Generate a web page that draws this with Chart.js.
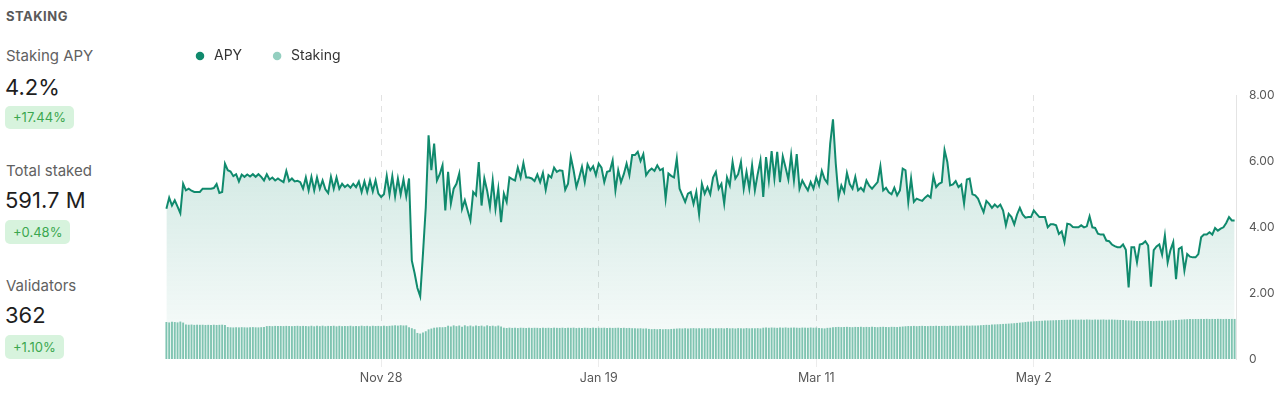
<!DOCTYPE html>
<html>
<head>
<meta charset="utf-8">
<script src="https://cdn.jsdelivr.net/npm/chart.js@4.4.1/dist/chart.umd.min.js"></script>
<style>
  body { margin: 0; background: #fff; font-family: Inter, "Noto Sans", sans-serif; }
  .page { position: relative; width: 1280px; height: 397px; overflow: hidden; }
  .title { position: absolute; left: 6px; top: 8px; font-size: 13px; line-height: 16px; font-weight: 700; color: #5a5a5a; letter-spacing: 0.5px; }
  .label { position: absolute; left: 6px; font-size: 15px; line-height: 20px; color: #616161; }
  .value { position: absolute; left: 5px; font-size: 22px; line-height: 28px; color: #1e1e1e; }
  .badge { position: absolute; left: 5px; height: 24px; line-height: 24px; padding: 0 8px; border-radius: 5px;
           background: #d7f3dd; color: #3ba74f; font-size: 13px; }
  .chart-box { position: absolute; left: 150px; top: 0; width: 1130px; height: 397px; }
</style>
</head>
<body>
<div class="page">
  <div class="title">STAKING</div>

  <div class="label" style="top:46px">Staking APY</div>
  <div class="value" style="top:73px">4.2%</div>
  <div class="badge" style="top:106px;height:23px;line-height:23px">+17.44%</div>

  <div class="label" style="top:161px">Total staked</div>
  <div class="value" style="top:186px">591.7 M</div>
  <div class="badge" style="top:220px">+0.48%</div>

  <div class="label" style="top:276px">Validators</div>
  <div class="value" style="top:301px">362</div>
  <div class="badge" style="top:335px">+1.10%</div>

  <div class="chart-box"><canvas id="stakingChart"></canvas></div>
</div>

<script>
// APY (%), one point every 16 hours
const apy = [
  4.55, 4.89, 4.65, 4.81, 4.62, 4.42, 5.31, 5.11, 5.16, 5.10, 5.06, 5.06, 5.06, 5.16, 5.16, 5.16,
  5.16, 5.18, 5.30, 5.03, 5.06, 5.92, 5.72, 5.68, 5.54, 5.60, 5.38, 5.59, 5.52, 5.59, 5.53, 5.60,
  5.52, 5.60, 5.52, 5.41, 5.60, 5.44, 5.50, 5.41, 5.47, 5.41, 5.36, 5.70, 5.39, 5.47, 5.38, 5.40,
  5.36, 5.16, 5.50, 5.11, 5.52, 5.11, 5.50, 5.16, 5.41, 5.14, 5.03, 5.52, 5.16, 5.50, 5.16, 5.31,
  5.21, 5.28, 5.19, 5.31, 5.21, 5.38, 5.06, 5.38, 5.06, 5.41, 5.08, 5.41, 5.01, 4.91, 4.99, 5.55,
  4.99, 5.54, 4.93, 5.47, 4.99, 5.44, 4.93, 5.47, 2.98, 2.60, 2.15, 1.90, 3.20, 4.60, 6.78, 5.72,
  6.53, 5.41, 5.60, 5.87, 4.50, 5.67, 4.71, 5.16, 5.31, 5.62, 4.55, 4.81, 4.50, 4.20, 5.06, 4.96,
  5.97, 4.65, 5.47, 5.10, 4.60, 5.41, 4.55, 5.16, 4.15, 5.01, 4.76, 5.50, 5.45, 5.41, 5.80, 5.50,
  5.94, 5.50, 5.50, 5.47, 5.39, 5.59, 5.36, 5.64, 5.13, 5.57, 5.50, 5.80, 5.67, 5.72, 5.70, 5.13,
  5.31, 6.12, 5.72, 5.21, 5.50, 5.82, 5.36, 5.90, 5.72, 5.84, 5.57, 5.92, 5.80, 5.36, 5.67, 5.70,
  6.02, 5.11, 5.72, 5.36, 5.60, 5.92, 5.57, 6.18, 6.18, 6.28, 6.00, 6.21, 5.57, 5.70, 5.77, 5.70,
  5.87, 5.72, 5.77, 4.86, 5.62, 5.55, 5.50, 6.07, 5.16, 4.96, 4.76, 5.01, 5.06, 4.70, 5.06, 4.38,
  5.31, 5.01, 5.21, 4.99, 5.50, 5.67, 5.16, 5.31, 4.71, 5.50, 5.26, 5.97, 5.47, 5.60, 5.97, 5.16,
  5.67, 5.16, 5.87, 5.11, 5.60, 6.02, 4.91, 6.12, 5.41, 6.30, 5.47, 6.28, 5.36, 6.14, 5.80, 5.44,
  6.18, 5.41, 6.21, 5.16, 5.41, 5.25, 5.11, 5.36, 5.16, 5.50, 5.26, 5.70, 5.45, 5.33, 6.53, 7.26,
  5.92, 4.91, 5.26, 5.06, 5.64, 5.30, 5.16, 5.52, 5.11, 5.19, 5.09, 5.41, 5.25, 5.16, 5.26, 5.36,
  5.84, 5.11, 5.19, 5.05, 4.99, 5.19, 4.96, 5.11, 5.77, 5.72, 4.76, 5.47, 4.76, 4.86, 4.82, 4.79,
  4.89, 4.96, 4.89, 5.54, 5.21, 5.31, 5.35, 6.33, 5.97, 5.26, 5.29, 5.39, 5.21, 5.29, 4.71, 5.44,
  5.47, 4.99, 4.96, 4.86, 4.65, 4.45, 4.79, 4.70, 4.58, 4.68, 4.60, 4.68, 4.50, 4.05, 4.40, 4.30,
  4.08, 4.38, 4.58, 4.38, 4.28, 4.30, 4.30, 4.50, 4.40, 4.30, 4.30, 4.30, 3.99, 4.08, 4.08, 4.05,
  3.79, 3.87, 3.54, 4.10, 4.08, 4.00, 3.99, 3.99, 4.05, 3.99, 4.02, 4.32, 3.99, 3.97, 3.80, 3.77,
  3.77, 3.59, 3.57, 3.47, 3.42, 3.39, 3.39, 3.47, 3.31, 2.17, 3.39, 3.39, 2.93, 3.47, 3.49, 3.57,
  3.44, 2.19, 3.30, 3.41, 3.47, 3.16, 3.74, 2.93, 3.30, 3.54, 2.42, 3.34, 3.39, 2.68, 3.18, 3.10,
  3.08, 3.08, 3.18, 3.69, 3.77, 3.77, 3.84, 3.77, 3.97, 3.89, 3.95, 3.99, 4.12, 4.30, 4.20, 4.20
];

// total staked (M)
const staked = [
  547, 540, 549, 546, 541, 553, 538, 510, 506, 509, 504, 507, 505, 506, 503, 505,
  504, 506, 503, 505, 507, 502, 472, 468, 466, 469, 467, 470, 468, 466, 469, 471,
  468, 467, 470, 472, 486, 488, 485, 489, 487, 488, 486, 489, 487, 485, 488, 490,
  486, 489, 487, 484, 491, 483, 490, 485, 492, 484, 489, 486, 491, 483, 490, 485,
  488, 486, 491, 484, 489, 485, 492, 486, 490, 484, 491, 487, 489, 485, 492, 486,
  490, 494, 498, 493, 499, 495, 497, 470, 455, 440, 385, 376, 392, 410, 438, 450,
  462, 466, 470, 469, 472, 492, 480, 497, 485, 495, 478, 498, 484, 494, 482, 496,
  487, 493, 481, 497, 486, 492, 483, 494, 480, 462, 458, 463, 459, 461, 457, 462,
  460, 458, 463, 459, 461, 460, 457, 462, 459, 461, 458, 463, 460, 459, 462, 458,
  461, 460, 463, 457, 461, 459, 462, 460, 458, 463, 459, 461, 460, 462, 458, 461,
  459, 460, 462, 458, 461, 457, 459, 455, 456, 452, 454, 450, 452, 445, 441, 444,
  440, 443, 439, 442, 440, 444, 447, 450, 453, 451, 455, 452, 454, 456, 453, 455,
  452, 456, 453, 457, 451, 455, 454, 456, 452, 457, 453, 455, 451, 456, 454, 452,
  457, 453, 455, 454, 456, 452, 462, 464, 461, 465, 463, 460, 464, 462, 466, 461,
  463, 465, 462, 460, 464, 463, 461, 465, 462, 464, 458, 455, 452, 460, 462, 468,
  472, 474, 471, 473, 475, 472, 470, 474, 473, 476, 471, 474, 472, 475, 473, 470,
  474, 476, 473, 471, 475, 474, 472, 476, 480, 484, 487, 486, 489, 485, 488, 490,
  487, 486, 489, 488, 491, 487, 489, 490, 488, 492, 489, 491, 490, 493, 491, 494,
  492, 495, 494, 496, 499, 502, 505, 504, 508, 511, 513, 515, 518, 520, 523, 526,
  529, 533, 537, 541, 546, 551, 555, 558, 560, 563, 565, 567, 569, 571, 572, 574,
  575, 577, 578, 579, 580, 581, 582, 580, 583, 581, 584, 582, 580, 583, 581, 582,
  584, 580, 582, 583, 581, 579, 577, 575, 572, 570, 568, 565, 563, 562, 564, 561,
  563, 562, 560, 563, 565, 564, 566, 568, 570, 573, 576, 579, 583, 586, 588, 590,
  589, 591, 590, 592, 591, 593, 590, 592, 591, 593, 592, 590, 592, 591, 592, 592
];

const tickLabels = ['Nov 28', 'Jan 19', 'Mar 11', 'May 2'];
const yTicks = [0, 2, 4, 6, 8];

// date labels: first point Oct 7 2023 16:00 UTC, 16h apart
const months = ['Jan', 'Feb', 'Mar', 'Apr', 'May', 'Jun', 'Jul', 'Aug', 'Sep', 'Oct', 'Nov', 'Dec'];
const startTime = Date.UTC(2023, 9, 7, 16);
const labels = apy.map((_, i) => {
  const d = new Date(startTime + i * 16 * 3600 * 1000);
  return months[d.getUTCMonth()] + ' ' + d.getUTCDate();
});

const green = '#108a6d';
const lightGreen = '#94cfc0';
const tickColor = '#585858';

Chart.defaults.font.family = 'Inter, "Noto Sans", sans-serif';

// push the plot down below the legend
const legendGap = {
  id: 'legendGap',
  beforeInit(chart) {
    const fit = chart.legend.fit;
    chart.legend.fit = function () {
      fit.call(this);
      this.height += 22;
    };
  }
};

const ctx = document.getElementById('stakingChart').getContext('2d');
new Chart(ctx, {
  type: 'bar',
  data: {
    labels: labels,
    datasets: [
      {
        type: 'line',
        label: 'APY',
        data: apy,
        yAxisID: 'y',
        order: 0,
        borderColor: green,
        borderWidth: 2,
        pointRadius: 0,
        tension: 0,
        fill: 'origin',
        backgroundColor: (c) => {
          const area = c.chart.chartArea;
          if (!area) return 'rgba(16,138,109,0.15)';
          const g = c.chart.ctx.createLinearGradient(0, area.top, 0, area.bottom);
          g.addColorStop(0, 'rgba(16,138,109,0.24)');
          g.addColorStop(1, 'rgba(16,138,109,0.02)');
          return g;
        },
      },
      {
        label: 'Staking',
        data: staked,
        yAxisID: 'y2',
        order: 1,
        backgroundColor: '#7fc4b1',
        barPercentage: 0.68,
        categoryPercentage: 1,
      },
    ],
  },
  options: {
    responsive: true,
    maintainAspectRatio: false,
    animation: false,
    layout: { padding: { left: 15, top: 21, right: 5, bottom: 7 } },
    plugins: {
      filler: { drawTime: 'beforeDatasetsDraw' },
      tooltip: { enabled: false },
      legend: {
        position: 'top',
        align: 'start',
        labels: {
          usePointStyle: true,
          boxWidth: 14,
          boxHeight: 6,
          padding: 28,
          color: '#333',
          font: { size: 14 },
          generateLabels(chart) {
            const items = Chart.defaults.plugins.legend.labels.generateLabels(chart);
            items.forEach((it) => {
              const c = it.datasetIndex === 0 ? green : lightGreen;
              it.fillStyle = c;
              it.strokeStyle = c;
              it.lineWidth = 0;
              it.pointStyle = 'circle';
            });
            return items;
          },
        },
      },
    },
    scales: {
      x: {
        afterBuildTicks(scale) {
          scale.ticks = scale.ticks.filter((t) =>
            tickLabels.includes(labels[t.value]) && labels[t.value - 1] !== labels[t.value]);
        },
        ticks: { color: tickColor, font: { size: 12.5 }, maxRotation: 0, padding: 4 },
        grid: { offset: false, color: '#e2e2e2', tickLength: 8, tickColor: '#ececec' },
        border: { display: false, dash: [6, 5] },
      },
      y: {
        position: 'right',
        min: 0,
        max: 8,
        afterBuildTicks(scale) {
          scale.ticks = yTicks.map((v) => ({ value: v }));
        },
        afterFit(scale) {
          scale.width = 39;
        },
        ticks: {
          color: tickColor,
          font: { size: 12 },
          padding: 13,
          callback: (v) => (v === 0 ? '0' : v.toFixed(2)),
        },
        grid: { display: false, drawTicks: false },
        border: { display: true, color: '#e4e4e4' },
      },
      y2: {
        display: false,
        min: 0,
        max: 3900,
      },
    },
  },
  plugins: [legendGap],
});
</script>
</body>
</html>
